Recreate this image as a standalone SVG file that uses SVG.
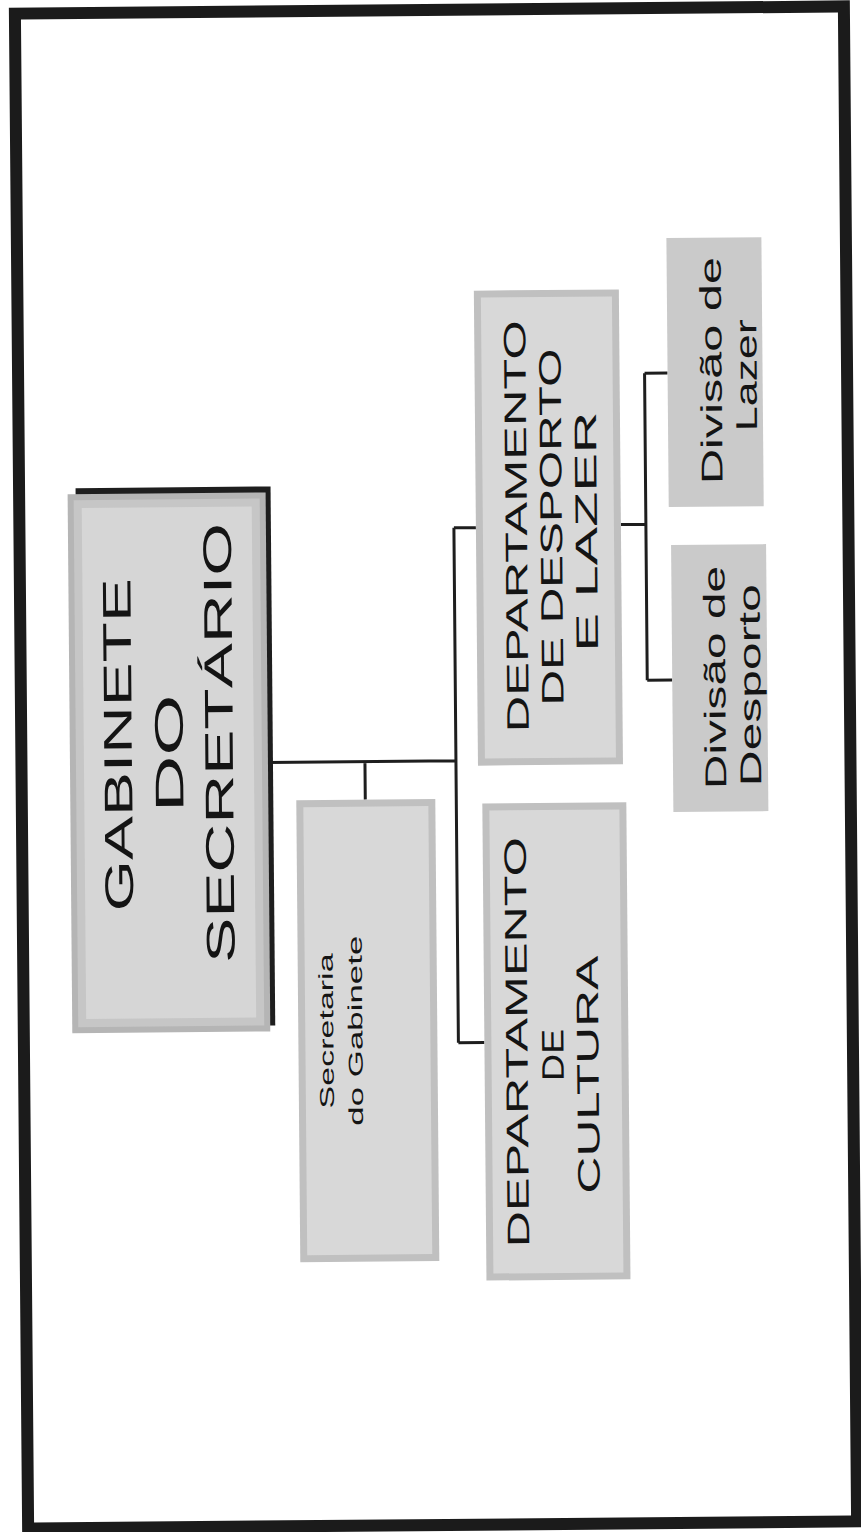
<svg xmlns="http://www.w3.org/2000/svg" width="861" height="1532" viewBox="0 0 861 1532">
<style>
.t{font-family:"Liberation Sans",Arial,sans-serif;fill:#141414;text-anchor:middle}
.c{stroke:#1e1e1e;stroke-width:3;fill:none}
.bo{fill:#c0c0c0}
.bi{fill:#d8d8d8}
.dv{fill:#cacaca}
</style>
<rect width="861" height="1532" fill="#ffffff"/>
<g transform="rotate(-0.5 436 767.5)">
<rect x="21.5" y="10" width="829" height="1515" fill="none" stroke="#1b1b1b" stroke-width="12"/>
<g id="connectors">
<path class="c" d="M268,761 H456 M365,761 V799 M456,528 V1043 M456,528 H478 M456,1043 H482 M623,526 H648 M648,375 V682 M648,375 H671 M648,682 H673"/>
</g>
<g id="gabinete">
<rect x="78" y="485" width="195" height="539" fill="#1e1e1e"/>
<rect x="70" y="491" width="198" height="539" fill="#b5b5b5"/>
<rect x="76" y="497" width="186" height="527" fill="#c6c6c6"/>
<rect x="84" y="505" width="170" height="511" fill="#d6d6d6"/>
<text class="t" font-size="40" transform="translate(132,742) rotate(-90)" textLength="333" lengthAdjust="spacingAndGlyphs">GABINETE</text>
<text class="t" font-size="40" transform="translate(183,751) rotate(-90)" textLength="118" lengthAdjust="spacingAndGlyphs">DO</text>
<text class="t" font-size="40" transform="translate(233,741) rotate(-90)" textLength="440" lengthAdjust="spacingAndGlyphs">SECRETÁRIO</text>
</g>
<g id="secretaria">
<rect class="bo" x="296" y="799" width="139" height="462"/>
<rect class="bi" x="303" y="806" width="125" height="448"/>
<text class="t" font-size="20" transform="translate(331,1030) rotate(-90)" textLength="155" lengthAdjust="spacingAndGlyphs">Secretaria</text>
<text class="t" font-size="20" transform="translate(360,1030) rotate(-90)" textLength="190" lengthAdjust="spacingAndGlyphs">do Gabinete</text>
</g>
<g id="dep-desporto-lazer">
<rect class="bo" x="478" y="291" width="145" height="475"/>
<rect class="bi" x="485" y="298" width="131" height="461"/>
<text class="t" font-size="31" transform="translate(529,527) rotate(-90)" textLength="412" lengthAdjust="spacingAndGlyphs">DEPARTAMENTO</text>
<text class="t" font-size="31" transform="translate(564,528) rotate(-90)" textLength="357" lengthAdjust="spacingAndGlyphs">DE DESPORTO</text>
<text class="t" font-size="31" transform="translate(599,533) rotate(-90)" textLength="240" lengthAdjust="spacingAndGlyphs">E LAZER</text>
</g>
<g id="dep-cultura">
<rect class="bo" x="482" y="804" width="144" height="477"/>
<rect class="bi" x="489" y="811" width="130" height="463"/>
<text class="t" font-size="31" transform="translate(525,1043) rotate(-90)" textLength="410" lengthAdjust="spacingAndGlyphs">DEPARTAMENTO</text>
<text class="t" font-size="31" transform="translate(561,1056) rotate(-90)" textLength="52" lengthAdjust="spacingAndGlyphs">DE</text>
<text class="t" font-size="31" transform="translate(596,1076) rotate(-90)" textLength="238" lengthAdjust="spacingAndGlyphs">CULTURA</text>
</g>
<g id="div-lazer">
<rect class="dv" x="671" y="240" width="95" height="269"/>
<text class="t" font-size="30" transform="translate(725,373) rotate(-90)" textLength="227" lengthAdjust="spacingAndGlyphs">Divisão de</text>
<text class="t" font-size="30" transform="translate(760,378) rotate(-90)" textLength="112" lengthAdjust="spacingAndGlyphs">Lazer</text>
</g>
<g id="div-desporto">
<rect class="dv" x="673" y="547" width="95" height="267"/>
<text class="t" font-size="30" transform="translate(726,680) rotate(-90)" textLength="223" lengthAdjust="spacingAndGlyphs">Divisão de</text>
<text class="t" font-size="30" transform="translate(761,688) rotate(-90)" textLength="202" lengthAdjust="spacingAndGlyphs">Desporto</text>
</g>
</g>
</svg>
